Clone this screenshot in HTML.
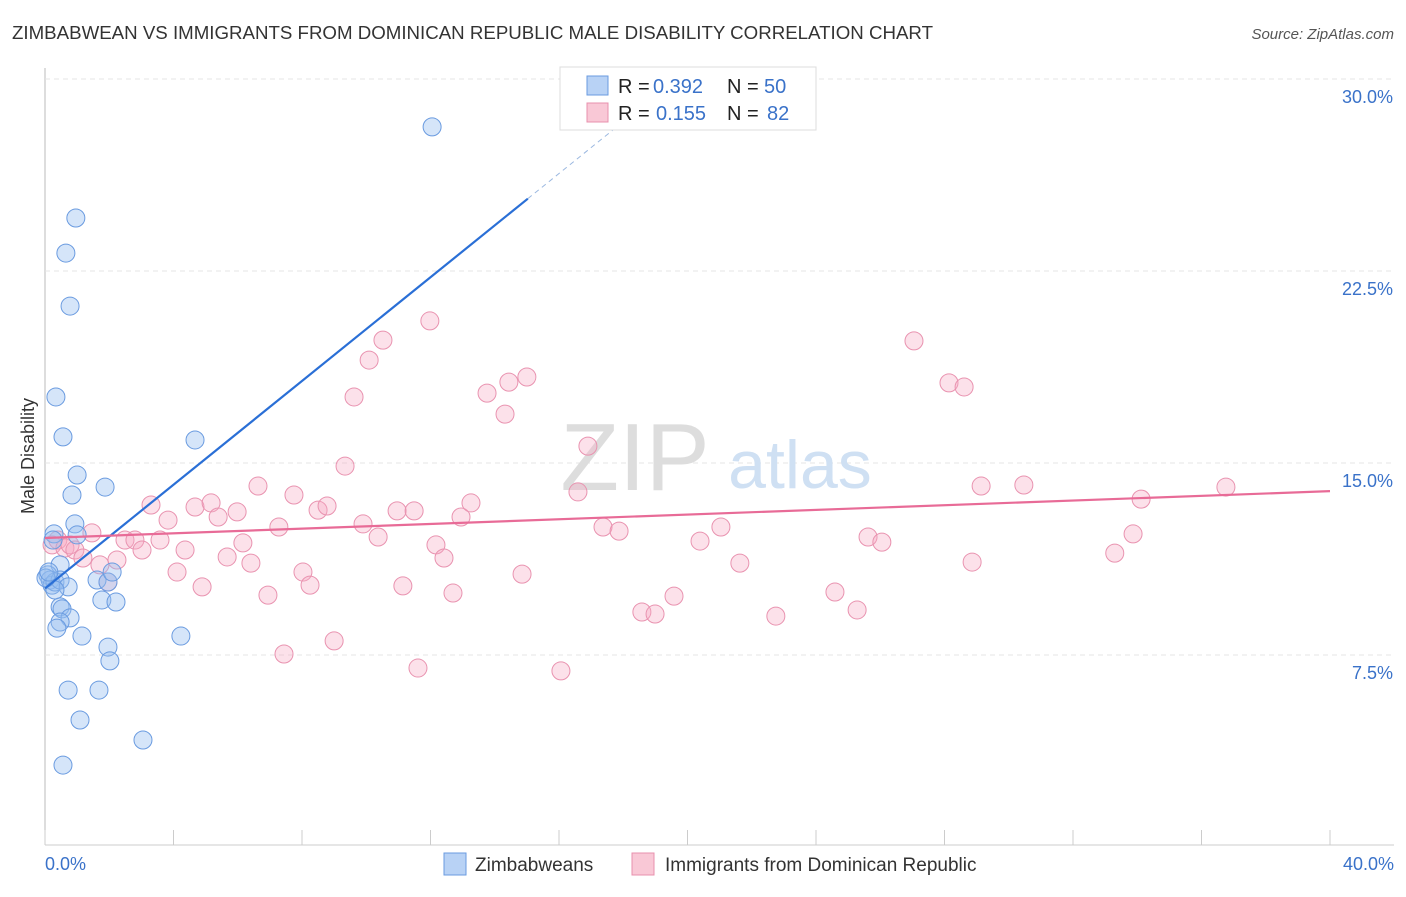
<!DOCTYPE html>
<html><head><meta charset="utf-8"><style>
body{margin:0;background:#fff;font-family:"Liberation Sans",sans-serif;}
svg text{font-family:"Liberation Sans",sans-serif;}
</style></head><body>
<svg id="chart" width="1406" height="892">
<text x="12" y="39" font-size="18.7" fill="#333">ZIMBABWEAN VS IMMIGRANTS FROM DOMINICAN REPUBLIC MALE DISABILITY CORRELATION CHART</text>
<text x="1394" y="39" font-size="15" fill="#555" font-style="italic" text-anchor="end">Source: ZipAtlas.com</text>
<text x="34" y="456" font-size="18" fill="#333" text-anchor="middle" transform="rotate(-90 34 456)">Male Disability</text>
<g id="grid"></g>
<text x="635" y="490" font-size="96" fill="#ddd" font-family="Liberation Serif" text-anchor="middle">ZIP</text>
<text x="800" y="488" font-size="68" fill="#cfe0f3" text-anchor="middle">atlas</text>
<g id="marks"></g>
<g id="lines"></g>
<g>
<rect x="560" y="67" width="256" height="63" fill="#fff" stroke="#ddd"/>
<rect x="587" y="76" width="21" height="19" fill="#b8d2f5" stroke="#6a9be0"/>
<rect x="587" y="103" width="21" height="19" fill="#f9c8d6" stroke="#e890ad"/>
<text x="618" y="93" font-size="20" fill="#222">R =</text>
<text x="653" y="93" font-size="20" fill="#3a72c9">0.392</text>
<text x="727" y="93" font-size="20" fill="#222">N =</text>
<text x="764" y="93" font-size="20" fill="#3a72c9">50</text>
<text x="618" y="120" font-size="20" fill="#222">R =</text>
<text x="656" y="120" font-size="20" fill="#3a72c9">0.155</text>
<text x="727" y="120" font-size="20" fill="#222">N =</text>
<text x="767" y="120" font-size="20" fill="#3a72c9">82</text>
</g>
<g>
<rect x="444" y="853" width="22" height="22" fill="#b8d2f5" stroke="#6a9be0"/>
<text x="475" y="871" font-size="19" fill="#333">Zimbabweans</text>
<rect x="632" y="853" width="22" height="22" fill="#f9c8d6" stroke="#e890ad"/>
<text x="665" y="871" font-size="19" fill="#333">Immigrants from Dominican Republic</text>
</g>
</svg>
<script>
const yTicks=[7.5,15,22.5,30];
const yTickLabels=["7.5%","15.0%","22.5%","30.0%"];
const xTickLabels=["0.0%","40.0%"];
const blueX=[12.05,0.96,0.65,0.78,0.34,0.56,4.67,1.00,0.84,1.87,0.93,0.28,1.00,0.25,0.47,0.09,0.16,0.22,0.31,0.47,0.72,0.31,1.62,1.96,2.09,1.77,2.21,0.47,0.53,0.78,0.47,0.37,1.15,4.23,1.96,2.02,0.72,1.68,1.09,3.05,0.56,0.03,0.12];
const blueY=[28.13,24.57,23.20,21.13,17.58,16.02,15.90,14.53,13.75,14.06,12.62,12.23,12.19,11.99,11.02,10.63,10.43,10.23,10.35,10.43,10.16,10.04,10.43,10.35,10.74,9.65,9.57,9.38,9.30,8.95,8.79,8.55,8.24,8.24,7.81,7.27,6.13,6.13,4.96,4.18,3.20,10.51,10.74];
const pinkX=[0.22,0.40,0.62,0.78,0.93,1.18,1.46,1.71,1.96,2.24,2.49,2.80,3.02,3.30,3.58,3.83,4.11,4.36,4.67,4.89,5.17,5.39,5.67,5.98,6.16,6.41,6.63,6.94,7.28,7.44,7.75,8.03,8.25,8.50,8.78,9.00,9.34,9.62,9.90,10.09,10.37,10.52,10.96,11.14,11.49,11.61,11.98,12.17,12.42,12.70,12.95,13.26,13.76,14.44,14.32,14.85,15.00,16.06,16.59,16.90,17.37,17.87,18.58,18.99,19.58,20.39,21.04,21.63,22.75,24.59,25.28,25.62,26.05,27.05,28.14,28.61,28.86,29.14,30.47,33.30,33.87,34.12,36.76];
const pinkY=[11.80,11.99,11.68,11.80,11.60,11.29,12.27,11.02,10.35,11.21,11.99,11.99,11.60,13.36,11.99,12.77,10.74,11.60,13.28,10.16,13.44,12.89,11.33,13.09,11.88,11.09,14.10,9.84,12.50,7.54,13.75,10.74,10.23,13.16,13.32,8.05,14.88,17.58,12.62,19.02,12.11,19.80,13.13,10.20,13.13,6.99,20.55,11.80,11.29,9.92,12.89,13.44,17.73,18.16,16.91,10.66,18.36,6.88,13.87,15.66,12.50,12.34,9.18,9.10,9.80,11.95,12.50,11.09,9.02,9.96,9.26,12.11,11.91,19.77,18.13,17.97,11.13,14.10,14.14,11.48,12.23,13.59,14.06];
const blueTrend=[10.1,1.013];
const pinkTrend=[12.07,13.9];
const X=v=>45+v/40*1285, Y=v=>847-v/7.5*192;
const NS="http://www.w3.org/2000/svg";
function mk(t,a,p){const e=document.createElementNS(NS,t);for(const k in a)e.setAttribute(k,a[k]);p.appendChild(e);return e;}
const grid=document.getElementById('grid');
let ax=mk('line',{x1:45,y1:68,x2:45,y2:845,stroke:'#bbb'},grid);


let bx=mk('line',{x1:45,y1:845,x2:1394,y2:845,stroke:'#ccc'},grid);


yTicks.forEach((t,i)=>{
 const g=mk('line',{x1:45,x2:1394,y1:Y(t),y2:Y(t),stroke:'#e4e4e4','stroke-dasharray':'5,4'},grid);
 
 
 const l=mk('text',{x:1393,y:Y(t)+24,'font-size':18,fill:'#3a72c9','text-anchor':'end'},grid);
 l.textContent=yTickLabels[i];
 
 
});
for(let i=0;i<=10;i++){
 const t=mk('line',{x1:X(i*4),x2:X(i*4),y1:830,y2:845,stroke:'#ccc'},grid);
 
 
}
[[0,'start',45],[40,'end',1394]].forEach((d,i)=>{
 const l=mk('text',{x:d[2],y:870,'font-size':18,fill:'#3a72c9','text-anchor':d[1]},grid);
 l.textContent=xTickLabels[i];
 
 
});
const marks=document.getElementById('marks');
pinkX.forEach((x,i)=>{
 const c=mk('circle',{cx:X(x),cy:Y(pinkY[i]),r:9,fill:'rgba(245,170,195,0.35)',stroke:'#e993b0','stroke-width':1},marks);
 
 
});
blueX.forEach((x,i)=>{
 const c=mk('circle',{cx:X(x),cy:Y(blueY[i]),r:9,fill:'rgba(150,190,240,0.4)',stroke:'#6a9be0','stroke-width':1},marks);
 
 
});
const lines=document.getElementById('lines');
const bEnd=15.03, bDash=(30-blueTrend[0])/blueTrend[1];
let l1=mk('line',{x1:X(0),y1:Y(blueTrend[0]),x2:X(bEnd),y2:Y(blueTrend[0]+blueTrend[1]*bEnd),stroke:'#2a6fd6','stroke-width':2.2},lines);


let l2=mk('line',{x1:X(bEnd),y1:Y(blueTrend[0]+blueTrend[1]*bEnd),x2:X(bDash),y2:Y(30),stroke:'#9bb8e0','stroke-width':1,'stroke-dasharray':'5,4'},lines);


let l3=mk('line',{x1:X(0),y1:Y(pinkTrend[0]),x2:X(40),y2:Y(pinkTrend[1]),stroke:'#e86b97','stroke-width':2.2},lines);


</script>
</body></html>
